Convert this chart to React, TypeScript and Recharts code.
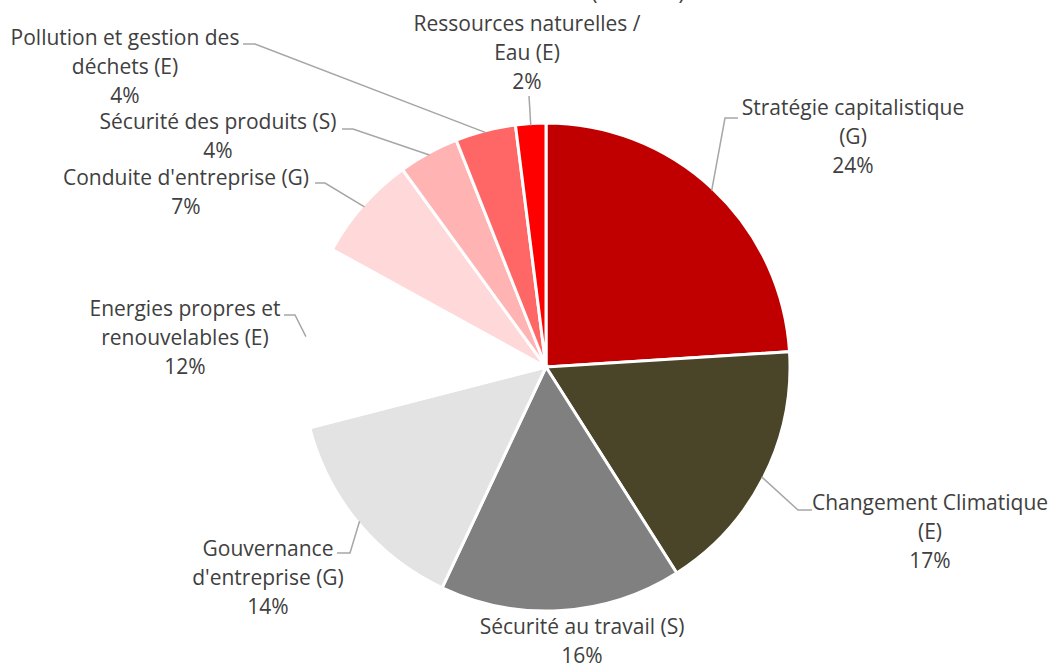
import React from 'react';
import { PieChart, Pie, Cell } from 'recharts';

const categories = [
  'Stratégie capitalistique\n(G)',
  'Changement Climatique\n(E)',
  'Sécurité au travail (S)',
  'Gouvernance\nd\'entreprise (G)',
  'Energies propres et\nrenouvelables (E)',
  'Conduite d\'entreprise (G)',
  'Sécurité des produits (S)',
  'Pollution et gestion des\ndéchets (E)',
  'Ressources naturelles /\nEau (E)',
];
const shares = [24, 17, 16, 14, 12, 7, 4, 4, 2];
const percentLabels = ['24%', '17%', '16%', '14%', '12%', '7%', '4%', '4%', '2%'];
const colors = ['#C00000', '#4A4429', '#808080', '#E3E3E3', '#FFFFFF', '#FFD9D9', '#FFB3B3', '#FF6666', '#FF0000'];

const data = categories.map((name, i) => ({ name, value: shares[i] }));

// label layout: text centre x, first baseline y, leader elbow and end (null = no line)
const labelLayout = [
  { tx: 853, ty: 115, elbow: [725, 118], end: [738, 118] },
  { tx: 930, ty: 510, elbow: [798, 510], end: [812, 510] },
  { tx: 582, ty: 634, elbow: null, end: null },
  { tx: 268, ty: 556, elbow: [350, 553], end: [337, 553] },
  { tx: 185, ty: 316, elbow: [295, 315], end: [284, 315] },
  { tx: 186, ty: 185, elbow: [325, 183], end: [315, 183] },
  { tx: 218, ty: 129, elbow: [353, 129], end: [342, 129] },
  { tx: 125, ty: 45, elbow: [255, 44], end: [243, 44] },
  { tx: 527, ty: 31, elbow: [529, 96], end: [529, 96] },
];

const LINE_H = 29;
const FONT = '"Open Sans", "Noto Sans", sans-serif';
const TEXT_COLOR = '#404040';
const RAD = Math.PI / 180;

const renderLabel = (props: any) => {
  const { cx, cy, midAngle, outerRadius, index, name } = props;
  const lay = labelLayout[index];
  const ex = cx + (outerRadius - 2) * Math.cos(-midAngle * RAD);
  const ey = cy + (outerRadius - 2) * Math.sin(-midAngle * RAD);
  const lines = String(name).split('\n').concat(percentLabels[index]);
  return (
    <g key={`lbl-${index}`}>
      {lay.elbow && (
        <polyline
          points={`${ex},${ey} ${lay.elbow[0]},${lay.elbow[1]} ${lay.end[0]},${lay.end[1]}`}
          fill="none"
          stroke="#A6A6A6"
          strokeWidth={1.5}
        />
      )}
      <text x={lay.tx} y={lay.ty} textAnchor="middle" fill={TEXT_COLOR} fontSize={21} fontFamily={FONT}>
        {lines.map((l, j) => (
          <tspan key={j} x={lay.tx} dy={j === 0 ? 0 : LINE_H}>
            {l}
          </tspan>
        ))}
      </text>
    </g>
  );
};

export default function App() {
  return (
    <div style={{ position: 'absolute', left: 0, top: 0, width: 1051, height: 668, background: '#FFFFFF' }}>
      <PieChart width={1051} height={668} margin={{ top: 0, right: 0, bottom: 0, left: 0 }}>
        <text x={638} y={0} textAnchor="middle" fill={TEXT_COLOR} fontSize={21} fontFamily={FONT}>
          (Autres E)
        </text>
        <Pie
          data={data}
          dataKey="value"
          nameKey="name"
          cx={546}
          cy={367}
          outerRadius={244}
          startAngle={90}
          endAngle={-270}
          stroke="#FFFFFF"
          strokeWidth={3}
          label={renderLabel}
          labelLine={false}
          isAnimationActive={false}
        >
          {data.map((d, i) => (
            <Cell key={d.name} fill={colors[i]} />
          ))}
        </Pie>
      </PieChart>
    </div>
  );
}
